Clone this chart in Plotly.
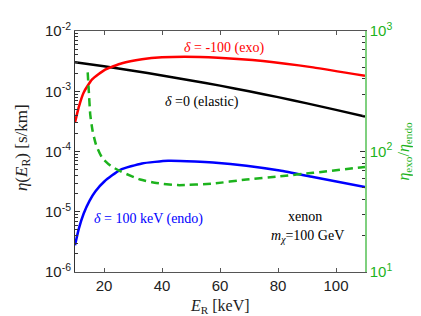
import plotly.graph_objects as go

# Elastic (delta = 0), black
E_black = [10, 20, 30, 40, 50, 60, 70, 80, 90, 100, 110]
eta_black = [3.03e-3, 2.59e-3, 2.19e-3, 1.83e-3, 1.51e-3, 1.24e-3, 1.00e-3, 7.98e-4, 6.29e-4, 4.91e-4, 3.79e-4]

# Exothermic (delta = -100), red
E_red = [10, 11.3, 13, 15.9, 20.4, 26.2, 33.1, 40, 47.8, 59.3, 74.8, 92.1, 110]
eta_red = [3.04e-4, 5.46e-4, 9.55e-4, 1.57e-3, 2.28e-3, 2.92e-3, 3.39e-3, 3.66e-3, 3.75e-3, 3.61e-3, 3.18e-3, 2.49e-3, 1.80e-3]

# Endothermic (delta = 100 keV), blue
E_blue = [10, 11.3, 13, 15, 17, 20.2, 25.6, 33.1, 42.1, 51.3, 57.6, 69.1, 80.6, 92.1, 110]
eta_blue = [2.77e-6, 5.2e-6, 9.37e-6, 1.52e-5, 2.17e-5, 3.21e-5, 4.96e-5, 6.34e-5, 7.01e-5, 6.84e-5, 6.59e-5, 5.82e-5, 4.83e-5, 3.77e-5, 2.57e-5]

# Ratio eta_exo / eta_endo (right axis), green dashed
E_ratio = [14.38, 14.72, 15.28, 16.1, 17.24, 19.3, 22.2, 25.6, 29.66, 32.5, 37.5, 45.5, 57.6, 69.1, 80.6, 92.1, 110]
ratio = [454, 329, 200, 147, 114, 89.1, 76.4, 68.6, 62.2, 58.5, 55.0, 52.6, 54.2, 58.5, 62.2, 66.5, 74.5]

# tick labels
x_ticks = [20, 40, 60, 80, 100]
y_ticks = [1e-6, 1e-5, 1e-4, 1e-3, 1e-2]
y_ticktext = ["10<sup>-6</sup>", "10<sup>-5</sup>", "10<sup>-4</sup>", "10<sup>-3</sup>", "10<sup>-2</sup>"]
y2_ticks = [10, 100, 1000]
y2_ticktext = ["10<sup>1</sup>", "10<sup>2</sup>", "10<sup>3</sup>"]

y_minor = [k * 10.0 ** n for n in range(-6, -2) for k in range(2, 10)]
y2_minor = [k * 10.0 ** n for n in range(1, 3) for k in range(2, 10)]

GREEN = "#1db31d"
SERIF = "Liberation Serif"
SANS = "Liberation Sans"

fig = go.Figure()
fig.add_trace(go.Scatter(x=E_black, y=eta_black, mode="lines", line=dict(color="black", width=2.5, shape="spline", smoothing=0.6)))
fig.add_trace(go.Scatter(x=E_red, y=eta_red, mode="lines", line=dict(color="#ff0000", width=2.5, shape="spline", smoothing=0.5)))
fig.add_trace(go.Scatter(x=E_blue, y=eta_blue, mode="lines", line=dict(color="#0000ff", width=2.5, shape="spline", smoothing=0.5)))
fig.add_trace(go.Scatter(x=E_ratio, y=ratio, mode="lines", yaxis="y2",
                         line=dict(color=GREEN, width=2.5, dash="8px,5px", shape="spline", smoothing=0.5)))

fig.update_layout(
    width=421, height=316,
    margin=dict(l=67, r=64, t=17, b=52),
    paper_bgcolor="white", plot_bgcolor="white",
    showlegend=False,
    xaxis=dict(range=[10, 110], tickmode="array", tickvals=x_ticks, ticks="inside", ticklen=4,
               showline=True, linecolor="#555", linewidth=1, mirror="ticks", tickcolor="#555",
               showgrid=False, zeroline=False,
               tickfont=dict(family=SANS, size=15, color="#222")),
    yaxis=dict(type="log", range=[-6, -2], tickmode="array", tickvals=y_ticks, ticktext=y_ticktext,
               ticks="inside", ticklen=5,
               showline=True, linecolor="#333", linewidth=1, tickcolor="#333",
               showgrid=False, zeroline=False,
               minor=dict(tickmode="array", tickvals=y_minor, ticks="inside", ticklen=3, tickcolor="#333", showgrid=False),
               tickfont=dict(family=SANS, size=15, color="#222")),
    yaxis2=dict(type="log", range=[1, 3], tickmode="array", tickvals=y2_ticks, ticktext=y2_ticktext,
                overlaying="y", side="right",
                ticks="inside", ticklen=5, showline=True, linecolor="#7fd07f", linewidth=1.5,
                tickcolor="#333", showgrid=False, zeroline=False,
                minor=dict(tickmode="array", tickvals=y2_minor, ticks="inside", ticklen=3, tickcolor="#333", showgrid=False),
                tickfont=dict(family=SANS, size=15, color=GREEN),
                title=dict(text="<i>η</i><sub>exo</sub>/<i>η</i><sub>endo</sub>", standoff=6,
                           font=dict(family=SERIF, size=16, color=GREEN))),
)

ann = [
    dict(x=61.4, y=-2.29, xref="x", yref="y", text="<i>δ</i> = -100 (exo)", font=dict(family=SERIF, size=14, color="#ff0000")),
    dict(x=53.8, y=-3.18, xref="x", yref="y", text="<i>δ</i> =0 (elastic)", font=dict(family=SERIF, size=14, color="black")),
    dict(x=35.5, y=-5.126, xref="x", yref="y", text="<i>δ</i> = 100 keV (endo)", font=dict(family=SERIF, size=14, color="#0000ff")),
    dict(x=89.3, y=-5.077, xref="x", yref="y", text="xenon", font=dict(family=SERIF, size=14, color="black")),
    dict(x=90.3, y=-5.417, xref="x", yref="y", text="<i>m</i><sub><i>χ</i></sub>=100 GeV", font=dict(family=SERIF, size=14, color="black")),
    dict(x=15, y=316 - 137, xref="paper", yref="paper", text="<i>η</i>(<i>E</i><sub>R</sub>) [s/km]",
         textangle=-90, font=dict(family=SERIF, size=17, color="#222")),
    dict(x=212, y=316 - 299, xref="paper", yref="paper", text="<i>E</i><sub>R</sub> [keV]",
         font=dict(family=SERIF, size=16, color="#222")),
]
# convert pixel positions for paper-referenced annotations
pw, ph = 421 - 67 - 64, 316 - 17 - 52
for a in ann:
    a["showarrow"] = False
    if a["xref"] == "paper":
        a["x"] = (a["x"] - 67) / pw
        a["y"] = (a["y"] - 52) / ph
        a["xanchor"] = "center"
        a["yanchor"] = "middle"
fig.update_layout(annotations=ann)

fig.write_html("out.html")
